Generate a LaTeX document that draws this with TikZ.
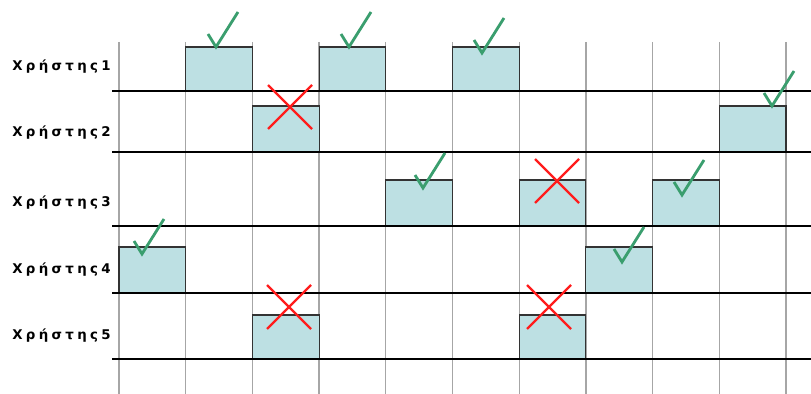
\documentclass[tikz,border=0pt]{standalone}
\usepackage{fontspec}
\newfontfamily\userfont[LetterSpace=25]{DejaVu Sans}
\definecolor{cSlot}{HTML}{BDE0E3}
\definecolor{cOk}{HTML}{3A9E6E}
\definecolor{cNo}{HTML}{FF1C1C}
\definecolor{cGrid}{HTML}{A6A6A6}

\begin{document}
\begin{tikzpicture}[
  x=0.025cm, y=-0.025cm,
  grid/.style={draw=cGrid, line width=0.9pt},
  rowline/.style={draw=black, line width=1pt},
  slot/.style={draw=black!80, fill=cSlot, line width=0.8pt},
  lbl/.style={anchor=base west, inner sep=0pt,
              font=\userfont\bfseries\fontsize{9.5}{11}\selectfont},
  tick/.pic={\draw[cOk, line width=2pt] (-8,-13) -- (0,0) -- (22,-35);},
  cross/.pic={\draw[cNo, line width=1.6pt] (-22,-22) -- (22,22) (-22,22) -- (22,-22);},
]
\useasboundingbox (0,0) rectangle (811,394);

% columns
\foreach \i in {0,...,10}
  \draw[grid] ({119+66.7*\i},42) -- ({119+66.7*\i},394);

% time slots: column / top / bottom
\foreach \c/\t/\b in {1/47/91, 3/47/91, 5/47/91,
                      2/106/152, 9/106/152,
                      4/180/226, 6/180/226, 8/180/226,
                      0/247/293, 7/247/293,
                      2/315/359, 6/315/359}
  \draw[slot] ({119+66.7*\c},\t) rectangle ({119+66.7*(\c+1)},\b);

% users
\foreach \n/\y/\base in {1/91/71, 2/152/137, 3/226/207, 4/293/273, 5/359/339} {
  \draw[rowline] (112,\y) -- (811,\y);
  \node[lbl] (user\n) at (12,\base) {Χρήστης\n};
}

% outcomes
\foreach \p in {(216,47), (349,47), (482,53), (772,106),
                (423,188), (682,195), (142,254), (622,262)}
  \pic at \p {tick};
\foreach \p in {(290,107), (557,181), (289,307), (549,307)}
  \pic at \p {cross};

\end{tikzpicture}
\end{document}
